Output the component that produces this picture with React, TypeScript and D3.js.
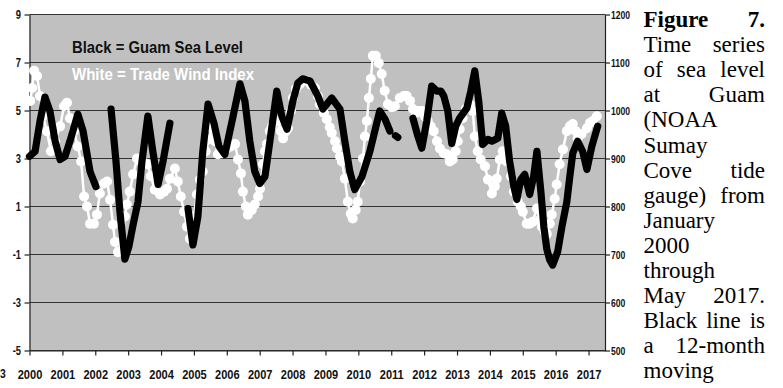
import React, { useEffect, useRef } from 'react';
import * as d3 from 'd3';

// Guam sea level (black line, left axis). null = break in the record
const seaLevelYears = [
  2000.0, 2000.17, 2000.32, 2000.47, 2000.62, 2000.78, 2000.93, 2001.08, 2001.23, 2001.47, 2001.63, 2001.84, 2002.02,
  2002.25,
  2002.48, 2002.63, 2002.75, 2002.9, 2003.02, 2003.15, 2003.3, 2003.42, 2003.6, 2003.75, 2003.91, 2004.06, 2004.27,
  2004.5,
  2004.82, 2004.97, 2005.12, 2005.27, 2005.43, 2005.61, 2005.76, 2005.94, 2006.16, 2006.4, 2006.55, 2006.7, 2006.85,
  2007.0, 2007.16, 2007.31, 2007.52, 2007.67, 2007.83, 2008.01, 2008.16, 2008.31, 2008.53, 2008.77, 2008.92, 2009.19,
  2009.44, 2009.59, 2009.74, 2009.89, 2010.11, 2010.35, 2010.65, 2010.81, 2010.96,
  2011.06,
  2011.13, 2011.2,
  2011.4,
  2011.66, 2011.81, 2011.93, 2012.08, 2012.23, 2012.39, 2012.51, 2012.6, 2012.72, 2012.84, 2012.96, 2013.08, 2013.3,
  2013.42, 2013.54, 2013.66, 2013.78, 2013.94, 2014.06, 2014.24, 2014.36, 2014.48, 2014.6, 2014.73, 2014.82, 2014.94,
  2015.06, 2015.21, 2015.33, 2015.43, 2015.55, 2015.64, 2015.73, 2015.82, 2015.91, 2016.06, 2016.19, 2016.34, 2016.43,
  2016.52, 2016.67, 2016.82, 2016.95, 2017.1, 2017.28,
];
const seaLevelValues = [
  3.09, 3.3, 4.56, 5.56, 4.98, 3.72, 2.96, 3.09, 3.72, 4.85, 4.14, 2.46, 1.83,
  null,
  5.06, 2.88, 0.78, -1.19, -0.68, 0.24, 1.2, 2.88, 4.77, 3.3, 1.92, 2.88, 4.47,
  null,
  0.91, -0.6, 0.57, 3.3, 5.27, 4.47, 3.51, 3.17, 4.56, 6.11, 5.4, 3.72, 2.46,
  1.96, 2.25, 3.72, 5.81, 4.77, 4.22, 5.4, 6.15, 6.32, 6.23, 5.6, 5.06, 5.52,
  5.06, 3.72, 2.46, 1.71, 2.25, 3.3, 4.98, 4.64, 4.14,
  null,
  3.95, 3.88,
  null,
  4.68, 3.93, 3.43, 4.56, 6.02, 5.81, 5.81, 5.6, 4.98, 3.63, 4.35, 4.68, 5.1,
  5.81, 6.65, 5.4, 3.59, 3.8, 3.72, 3.84, 4.89, 4.35, 2.88, 1.83, 1.29, 2.13,
  2.34, 1.5, 2.25, 3.3, 1.62, 0.16, -0.77, -1.23, -1.44, -0.89, 0.16, 1.2, 2.25,
  3.22, 3.72, 3.3, 2.54, 3.51, 4.35,
];

// Trade wind index (white line with markers, right axis)
const windYears = [
  2000.02, 2000.08, 2000.14, 2000.23, 2000.32, 2000.41, 2000.53, 2000.65, 2000.78, 2000.93, 2001.05, 2001.14, 2001.23,
  2001.35, 2001.47, 2001.57, 2001.66, 2001.75, 2001.84, 2001.96, 2002.05, 2002.14, 2002.26, 2002.36, 2002.45, 2002.54,
  2002.6, 2002.69, 2002.81, 2002.9, 2002.96, 2003.05, 2003.15, 2003.27, 2003.39, 2003.51, 2003.6, 2003.69, 2003.81,
  2003.97, 2004.09, 2004.18, 2004.27, 2004.42, 2004.51, 2004.6, 2004.7, 2004.79, 2004.88, 2005.0, 2005.09, 2005.18,
  2005.27, 2005.36, 2005.46, 2005.55, 2005.64, 2005.73, 2005.85, 2006.0, 2006.12, 2006.25, 2006.34, 2006.43, 2006.49,
  2006.58, 2006.64, 2006.76, 2006.85, 2006.95, 2007.01, 2007.1, 2007.16, 2007.22, 2007.31, 2007.37, 2007.46, 2007.55,
  2007.64, 2007.71, 2007.8, 2007.86, 2007.95, 2008.01, 2008.1, 2008.22, 2008.34, 2008.43, 2008.56, 2008.68, 2008.77,
  2008.83, 2008.95, 2009.04, 2009.13, 2009.19, 2009.29, 2009.35, 2009.44, 2009.5, 2009.59, 2009.68, 2009.77, 2009.83,
  2009.92, 2009.98, 2010.05, 2010.14, 2010.2, 2010.26, 2010.32, 2010.38, 2010.44, 2010.53, 2010.62, 2010.71, 2010.8,
  2010.9, 2011.02, 2011.11, 2011.26, 2011.38, 2011.47, 2011.57, 2011.66, 2011.75, 2011.84, 2011.93, 2012.02, 2012.11,
  2012.2, 2012.29, 2012.39, 2012.48, 2012.6, 2012.69, 2012.78, 2012.87, 2012.96, 2013.02, 2013.08, 2013.17, 2013.27,
  2013.39, 2013.48, 2013.54, 2013.63, 2013.72, 2013.85, 2013.94, 2014.06, 2014.15, 2014.21, 2014.3, 2014.39, 2014.51,
  2014.64, 2014.73, 2014.85, 2014.94, 2015.0, 2015.12, 2015.21, 2015.3, 2015.43, 2015.52, 2015.58, 2015.67, 2015.73,
  2015.82, 2015.88, 2015.97, 2016.03, 2016.12, 2016.22, 2016.34, 2016.43, 2016.52, 2016.61, 2016.67, 2016.79, 2016.95,
  2017.04, 2017.13, 2017.25,
];
const windValues = [
  1020, 1047, 1083, 1072, 1030, 988, 957, 915, 936, 967, 1009, 1016, 984,
  957, 925, 894, 821, 800, 764, 764, 783, 827, 848, 852, 814, 762,
  726, 705, 726, 779, 804, 831, 867, 900, 894, 890, 888, 863, 835,
  825, 831, 837, 858, 879, 852, 821, 789, 758, 733, 779, 825, 856,
  873, 915, 940, 963, 936, 909, 911, 921, 925, 930, 898, 869, 831,
  800, 783, 793, 804, 821, 837, 888, 915, 930, 957, 967, 978, 978,
  957, 942, 957, 963, 999, 1026, 1045, 1055, 1062, 1062, 1053, 1047, 1030,
  1013, 995, 982, 965, 953, 936, 921, 904, 894, 858, 810, 785, 775,
  793, 810, 852, 900, 946, 978, 1026, 1066, 1114, 1114, 1099, 1076, 1041,
  1013, 1007, 1009, 1026, 1030, 1030, 1020, 1003, 995, 999, 999, 988, 978,
  967, 957, 936, 921, 911, 909, 894, 898, 915, 936, 961, 984, 1003,
  1013, 999, 946, 915, 898, 884, 856, 827, 842, 858, 898, 915, 894,
  863, 831, 810, 800, 789, 764, 764, 768, 796, 772, 758, 747, 743,
  764, 783, 816, 846, 888, 919, 957, 967, 972, 957, 942, 951, 963,
  974, 978, 988,
];

const leftTicks = [-5, -3, -1, 1, 3, 5, 7, 9];
const rightTicks = [500, 600, 700, 800, 900, 1000, 1100, 1200];
const yearTicks = [2000, 2001, 2002, 2003, 2004, 2005, 2006, 2007, 2008, 2009, 2010, 2011, 2012, 2013, 2014, 2015, 2016, 2017];

// caption beside the chart, one entry per printed line (justified)
const captionLines = [
  ['Figure', '7.'],
  ['Time', 'series'],
  ['of', 'sea', 'level'],
  ['at', 'Guam'],
  ['(NOAA'],
  ['Sumay'],
  ['Cove', 'tide'],
  ['gauge)', 'from'],
  ['January'],
  ['2000'],
  ['through'],
  ['May', '2017.'],
  ['Black', 'line', 'is'],
  ['a', '12-month'],
  ['moving'],
];

const SANS = 'Arial, "Liberation Sans", sans-serif';
const SERIF = '"Times New Roman", "Liberation Serif", serif';

const App = () => {
  const chartRef = useRef<SVGSVGElement>(null);

  useEffect(() => {
    const svg = d3.select(chartRef.current);
    svg.selectAll('*').remove();

    const left = 29.5, right = 605, top = 14.5, bottom = 350.5;

    const x = d3.scaleLinear().domain([2000, 2017.5]).range([left, right]);
    const yLeft = d3.scaleLinear().domain([-5, 9]).range([bottom, top]);
    const yRight = d3.scaleLinear().domain([500, 1200]).range([bottom, top]);

    // plot background
    svg.append('rect')
      .attr('x', left).attr('y', top)
      .attr('width', right - left).attr('height', bottom - top)
      .attr('fill', '#c0c0c0');

    // horizontal grid
    svg.append('g').selectAll('line')
      .data(leftTicks)
      .enter().append('line')
      .attr('x1', left).attr('x2', right)
      .attr('y1', d => yLeft(d)).attr('y2', d => yLeft(d))
      .attr('stroke', '#333').attr('stroke-width', 1.2);

    const styleAxis = (g: any, size: number, sx: number) => {
      g.select('.domain').attr('stroke', '#222').attr('stroke-width', 1.2);
      g.selectAll('.tick line').attr('stroke', '#222').attr('stroke-width', 1.2);
      g.selectAll('.tick text')
        .attr('font-family', SANS)
        .attr('font-weight', 'bold')
        .attr('font-size', size)
        .attr('fill', '#111')
        .attr('transform', `scale(${sx},1)`);
    };

    const gL = svg.append('g')
      .attr('transform', `translate(${left},0)`)
      .call(d3.axisLeft(yLeft).tickValues(leftTicks).tickSize(5).tickSizeOuter(0).tickFormat((d: any) => String(d)));
    styleAxis(gL, 12, 0.78);
    gL.selectAll('.tick text').attr('x', -8.5 / 0.78);

    const gR = svg.append('g')
      .attr('transform', `translate(${right},0)`)
      .call(d3.axisRight(yRight).tickValues(rightTicks).tickSize(5).tickSizeOuter(0).tickFormat((d: any) => String(d)));
    styleAxis(gR, 11.5, 0.75);
    gR.selectAll('.tick text').attr('x', 6 / 0.75);

    const gB = svg.append('g')
      .attr('transform', `translate(0,${bottom})`)
      .call(d3.axisBottom(x).tickValues(yearTicks).tickSize(5).tickSizeOuter(0).tickFormat((d: any) => String(d)));
    styleAxis(gB, 13.5, 0.82);
    gB.selectAll('.tick text').attr('y', 28.5).attr('dy', 0);

    // trade wind index: white line with round markers
    const windData = windYears.map((t, i) => ({ t, v: windValues[i] }));
    svg.append('path')
      .datum(windData)
      .attr('d', d3.line<any>().x(d => x(d.t)).y(d => yRight(d.v)))
      .attr('fill', 'none')
      .attr('stroke', '#fff')
      .attr('stroke-width', 2.5);
    svg.append('g').selectAll('circle')
      .data(windData)
      .enter().append('circle')
      .attr('cx', d => x(d.t))
      .attr('cy', d => yRight(d.v))
      .attr('r', 5)
      .attr('fill', '#fff');

    // sea level: thick black line
    const seaData = seaLevelYears.map((t, i) => ({ t, v: seaLevelValues[i] }));
    svg.append('path')
      .datum(seaData)
      .attr('d', d3.line<any>().defined(d => d.v !== null).x(d => x(d.t)).y(d => yLeft(d.v)))
      .attr('fill', 'none')
      .attr('stroke', '#000')
      .attr('stroke-width', 7.2)
      .attr('stroke-linejoin', 'round')
      .attr('stroke-linecap', 'round');

    // legend texts inside the plot
    svg.append('text')
      .attr('x', 72).attr('y', 53)
      .attr('font-family', SANS).attr('font-weight', 'bold').attr('font-size', 17)
      .attr('textLength', 171).attr('lengthAdjust', 'spacingAndGlyphs')
      .attr('fill', '#111')
      .text('Black = Guam Sea Level');
    svg.append('text')
      .attr('x', 72).attr('y', 80)
      .attr('font-family', SANS).attr('font-weight', 'bold').attr('font-size', 17)
      .attr('textLength', 182).attr('lengthAdjust', 'spacingAndGlyphs')
      .attr('fill', '#fff')
      .text('White = Trade Wind Index');

    // stray glyph at the lower left edge
    svg.append('text')
      .attr('x', 0).attr('y', 378)
      .attr('font-family', SANS).attr('font-weight', 'bold').attr('font-size', 13)
      .attr('transform', 'scale(0.8,1)')
      .attr('fill', '#111')
      .text('3');

    // justified caption column
    const capLeft = 643.5, capRight = 765, capTop = 27, lineH = 25.1;
    const cap = svg.append('g').attr('font-family', SERIF).attr('font-size', 23).attr('fill', '#000');
    captionLines.forEach((words, i) => {
      const y = capTop + i * lineH;
      const nodes = words.map(w => cap.append('text')
        .attr('y', y)
        .attr('font-weight', i === 0 ? 'bold' : 'normal')
        .text(w));
      const widths = nodes.map(n => (n.node() as SVGTextElement).getComputedTextLength());
      const total = d3.sum(widths);
      const gap = words.length > 1 ? (capRight - capLeft - total) / (words.length - 1) : 0;
      let cx = capLeft;
      nodes.forEach((n, j) => {
        n.attr('x', cx);
        cx += widths[j] + gap;
      });
    });
  }, []);

  return (
    <svg
      ref={chartRef}
      width={783}
      height={388}
      style={{ position: 'absolute', left: 0, top: 0, background: '#fff' }}
    />
  );
};

export default App;
